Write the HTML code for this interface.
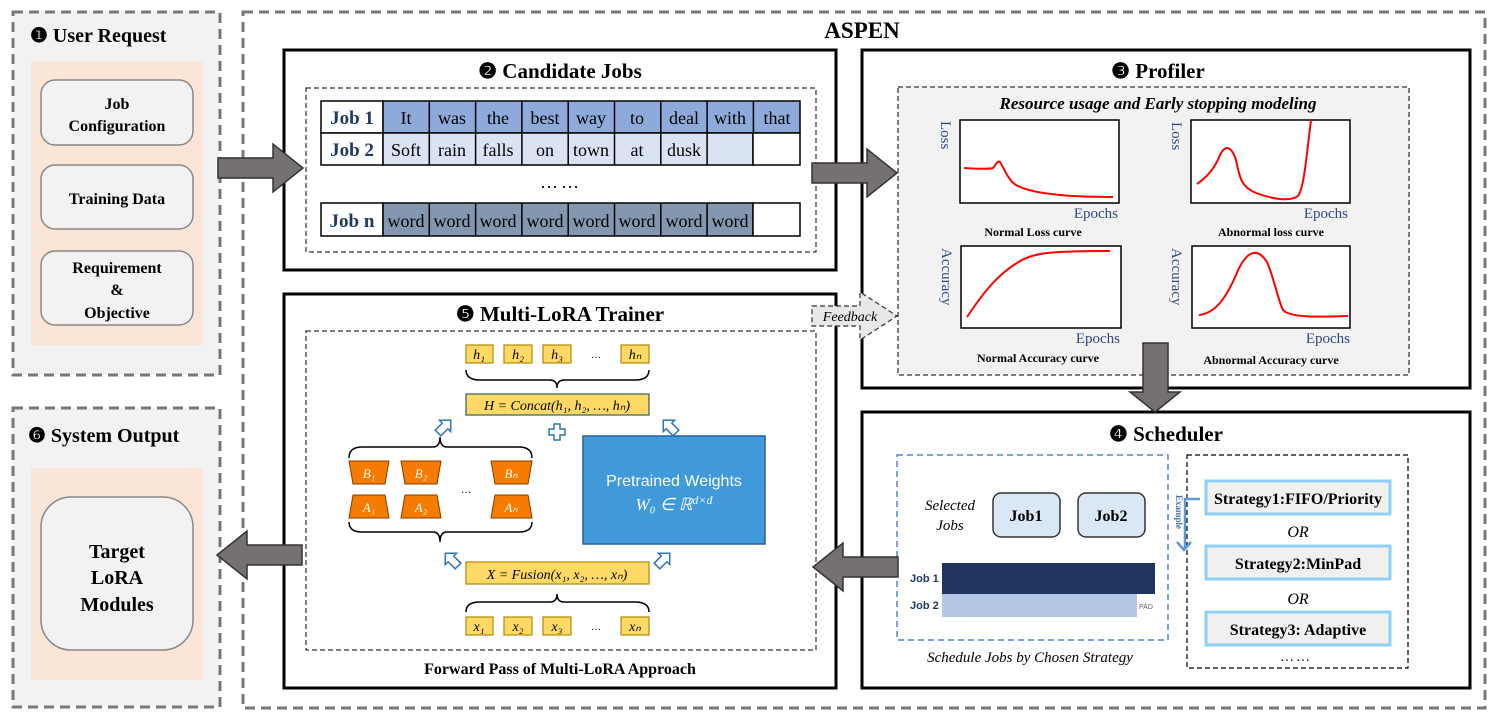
<!DOCTYPE html>
<html><head><meta charset="utf-8"><style>
body{margin:0;background:#fff}
svg{display:block;font-family:"Liberation Serif",serif}
.b{font-weight:bold}
</style></head><body>
<svg width="1495" height="719" viewBox="0 0 1495 719" xmlns="http://www.w3.org/2000/svg">
<defs>
<g id="ga"><path d="M0,-10 H55 V-24 L85,0 L55,24 V10 H0 Z" fill="#767171" stroke="#333" stroke-width="1.5"/></g>
</defs>
<!-- User request -->
<rect x="13" y="12" width="207" height="363" fill="#f2f2f2" stroke="#777" stroke-width="3" stroke-dasharray="10,6"/>
<text x="30" y="42" font-size="20" class="b">❶ User Request</text>
<rect x="31" y="61" width="172" height="284" fill="#fbe5d6"/>
<g fill="#f2f2f2" stroke="#888" stroke-width="1.5">
<rect x="41" y="80" width="152" height="65" rx="14"/>
<rect x="41" y="165" width="152" height="64" rx="14"/>
<rect x="41" y="251" width="152" height="74" rx="14"/>
</g>
<g font-size="16" class="b" text-anchor="middle">
<text x="117" y="109">Job</text><text x="117" y="131">Configuration</text>
<text x="117" y="204">Training Data</text>
<text x="117" y="273">Requirement</text><text x="117" y="295">&amp;</text><text x="117" y="318">Objective</text>
</g>
<!-- System output -->
<rect x="13" y="408" width="207" height="299" fill="#f2f2f2" stroke="#777" stroke-width="3" stroke-dasharray="10,6"/>
<text x="28" y="442" font-size="20" class="b">❻ System Output</text>
<rect x="31" y="468" width="172" height="212" fill="#fbe5d6"/>
<rect x="41" y="497" width="152" height="153" rx="30" fill="#f2f2f2" stroke="#888" stroke-width="1.5"/>
<g font-size="20" class="b" text-anchor="middle">
<text x="117" y="558">Target</text><text x="117" y="584">LoRA</text><text x="117" y="611">Modules</text>
</g>
<!-- ASPEN -->
<rect x="243" y="12" width="1242" height="696" fill="none" stroke="#777" stroke-width="3" stroke-dasharray="10,6"/>
<text x="862" y="38" font-size="23" class="b" text-anchor="middle">ASPEN</text>
<!-- Candidate Jobs -->
<rect x="284" y="50" width="552" height="220" fill="#fff" stroke="#000" stroke-width="3"/>
<text x="560" y="78" font-size="21" class="b" text-anchor="middle">❷ Candidate Jobs</text>
<rect x="306" y="88" width="510" height="164" fill="none" stroke="#000" stroke-width="1" stroke-dasharray="5,3"/>
<g stroke="#000" stroke-width="1.5">
<rect x="321" y="101" width="62" height="32" fill="#fff"/>
<rect x="383" y="101" width="417" height="32" fill="#8eaadb"/>
<rect x="321" y="133" width="62" height="32" fill="#fff"/>
<rect x="383" y="133" width="370" height="32" fill="#dae3f3"/>
<rect x="753" y="133" width="47" height="32" fill="#fff"/>
<rect x="321" y="203" width="62" height="33" fill="#fff"/>
<rect x="383" y="203" width="370" height="33" fill="#8497b0"/>
<rect x="753" y="203" width="47" height="33" fill="#fff"/>
<path d="M429.3,101V165M475.6,101V165M521.9,101V165M568.2,101V165M614.5,101V165M660.8,101V165M707.1,101V165M753.4,101V133M429.3,203V236M475.6,203V236M521.9,203V236M568.2,203V236M614.5,203V236M660.8,203V236M707.1,203V236"/>
</g>
<g font-size="19" class="b" fill="#1f3864" text-anchor="middle">
<text x="352" y="124">Job 1</text><text x="352" y="156">Job 2</text><text x="352" y="227">Job n</text>
</g>
<g font-size="18" text-anchor="middle">
<text x="406" y="124">It</text><text x="452" y="124">was</text><text x="498" y="124">the</text><text x="545" y="124">best</text><text x="591" y="124">way</text><text x="637" y="124">to</text><text x="684" y="124">deal</text><text x="730" y="124">with</text><text x="777" y="124">that</text>
<text x="406" y="156">Soft</text><text x="452" y="156">rain</text><text x="498" y="156">falls</text><text x="545" y="156">on</text><text x="591" y="156">town</text><text x="637" y="156">at</text><text x="684" y="156">dusk</text>
<text x="406" y="227">word</text><text x="452" y="227">word</text><text x="498" y="227">word</text><text x="545" y="227">word</text><text x="591" y="227">word</text><text x="637" y="227">word</text><text x="684" y="227">word</text><text x="730" y="227">word</text>
<text x="561" y="188" letter-spacing="3">……</text>
</g>
<!-- Profiler -->
<rect x="862" y="50" width="608" height="338" fill="#fff" stroke="#000" stroke-width="3"/>
<text x="1158" y="78" font-size="21" class="b" text-anchor="middle">❸ Profiler</text>
<rect x="898" y="87" width="511" height="288" fill="#f2f2f2" stroke="#000" stroke-width="1" stroke-dasharray="5,3"/>
<text x="1158" y="109" font-size="17" class="b" font-style="italic" text-anchor="middle">Resource usage and Early stopping modeling</text>
<g fill="#fff" stroke="#000" stroke-width="1.5">
<rect x="960" y="120" width="159" height="83"/>
<rect x="1191" y="120" width="159" height="83"/>
<rect x="961" y="246" width="160" height="82"/>
<rect x="1192" y="246" width="158" height="82"/>
</g>
<g fill="none" stroke="#f00" stroke-width="2">
<path d="M964,168 C980,169 990,169 993,168 C996,165 997,160 1000,162 C1004,168 1008,180 1016,185 C1030,193 1060,197 1113,197"/>
<path d="M1197,184 C1210,175 1216,165 1220,155 C1225,145 1231,145 1236,160 C1240,180 1242,187 1256,193 C1272,199 1290,202 1298,196 C1304,188 1306,160 1311,120"/>
<path d="M967,317 C985,290 1000,272 1022,260 C1035,253 1050,251 1110,251"/>
<path d="M1199,315 C1215,313 1225,300 1236,275 C1245,253 1256,245 1267,262 C1274,278 1278,300 1283,310 C1290,318 1320,317 1348,316"/>
</g>
<g font-size="15" fill="#2f4a80">
<text x="1118" y="218" text-anchor="end">Epochs</text>
<text x="1348" y="218" text-anchor="end">Epochs</text>
<text x="1120" y="343" text-anchor="end">Epochs</text>
<text x="1350" y="343" text-anchor="end">Epochs</text>
<text transform="translate(941,121) rotate(90)">Loss</text>
<text transform="translate(1172,122) rotate(90)">Loss</text>
<text transform="translate(942,248) rotate(90)">Accuracy</text>
<text transform="translate(1172,248) rotate(90)">Accuracy</text>
</g>
<g font-size="12" class="b" text-anchor="middle">
<text x="1033" y="236">Normal Loss curve</text>
<text x="1271" y="236">Abnormal loss curve</text>
<text x="1038" y="362">Normal Accuracy curve</text>
<text x="1271" y="364">Abnormal Accuracy curve</text>
</g>
<!-- Trainer -->
<rect x="284" y="294" width="552" height="394" fill="#fff" stroke="#000" stroke-width="3"/>
<text x="560" y="321" font-size="21" class="b" text-anchor="middle">❺ Multi-LoRA Trainer</text>
<rect x="306" y="331" width="510" height="319" fill="none" stroke="#000" stroke-width="1" stroke-dasharray="5,3"/>
<text x="560" y="674" font-size="16" class="b" text-anchor="middle">Forward Pass of Multi-LoRA Approach</text>
<g fill="#ffd966" stroke="#b08a00" stroke-width="1.2">
<rect x="466" y="345" width="27" height="18"/><rect x="504" y="345" width="28" height="18"/><rect x="543" y="345" width="28" height="18"/><rect x="621" y="345" width="28" height="18"/>
<rect x="466" y="394" width="183" height="21" stroke="#2e5e5e"/>
<rect x="466" y="562" width="183" height="22"/>
<rect x="466" y="617" width="27" height="18"/><rect x="504" y="617" width="28" height="18"/><rect x="543" y="617" width="28" height="18"/><rect x="621" y="617" width="28" height="18"/>
</g>
<g font-size="14" font-style="italic" text-anchor="middle">
<text x="479" y="359">h₁</text><text x="518" y="359">h₂</text><text x="557" y="359">h₃</text><text x="596" y="358" font-style="normal" font-size="10">…</text><text x="635" y="359">hₙ</text>
<text x="557" y="410">H = Concat(h₁, h₂, …, hₙ)</text>
<text x="557" y="579">X = Fusion(x₁, x₂, …, xₙ)</text>
<text x="479" y="631">x₁</text><text x="518" y="631">x₂</text><text x="557" y="631">x₃</text><text x="596" y="630" font-style="normal" font-size="10">…</text><text x="635" y="631">xₙ</text>
</g>
<g fill="none" stroke="#000" stroke-width="1.5">
<path d="M466,370 Q466,380 480,380 H550 Q557,380 557,388 Q557,380 564,380 H635 Q649,380 649,370"/>
<path d="M466,612 Q466,602 480,602 H550 Q557,602 557,594 Q557,602 564,602 H635 Q649,602 649,612"/>
<path d="M349,458 Q349,447 362,447 H433 Q440,447 440,437 Q440,447 447,447 H519 Q532,447 532,458"/>
<path d="M349,522 Q349,532 362,532 H433 Q440,532 440,542 Q440,532 447,532 H519 Q532,532 532,522"/>
</g>
<g fill="#f57c00" stroke="#8a3a00" stroke-width="1">
<path d="M349,461H389L385,484H353Z"/><path d="M401,461H441L437,484H405Z"/><path d="M491,461H532L528,484H495Z"/>
<path d="M353,495H385L389,518H349Z"/><path d="M405,495H437L441,518H401Z"/><path d="M495,495H528L532,518H491Z"/>
</g>
<g font-size="13" font-style="italic" fill="#fff" text-anchor="middle">
<text x="369" y="478">B₁</text><text x="421" y="478">B₂</text><text x="511" y="478">Bₙ</text>
<text x="369" y="512">A₁</text><text x="421" y="512">A₂</text><text x="511" y="512">Aₙ</text>
</g>
<text x="466" y="493" font-size="10" text-anchor="middle">…</text>
<rect x="583" y="436" width="182" height="108" fill="#409ad9" stroke="#2a5f99" stroke-width="1.5"/>
<text x="674" y="486" font-size="16" fill="#fff" font-family="Liberation Sans,sans-serif" text-anchor="middle">Pretrained Weights</text>
<text x="674" y="510" font-size="17" fill="#fff" font-style="italic" text-anchor="middle">W₀ ∈ ℝ<tspan font-size="12" dy="-6">d×d</tspan></text>
<g fill="#fff" stroke="#2e75b6" stroke-width="1.5">
<path d="M0,-4H10V-8L18,0L10,8V4H0Z" transform="translate(438,433) rotate(-45)"/>
<path d="M0,-4H10V-8L18,0L10,8V4H0Z" transform="translate(676,433) rotate(-135)"/>
<path d="M0,-4H10V-8L18,0L10,8V4H0Z" transform="translate(458,566) rotate(-135)"/>
<path d="M0,-4H10V-8L18,0L10,8V4H0Z" transform="translate(657,566) rotate(-45)"/>
<path d="M554,424h6v5h5v6h-5v5h-6v-5h-5v-6h5z"/>
</g>
<!-- Scheduler -->
<rect x="862" y="412" width="608" height="276" fill="#fff" stroke="#000" stroke-width="3"/>
<text x="1166" y="441" font-size="21" class="b" text-anchor="middle">❹ Scheduler</text>
<rect x="897" y="455" width="271" height="185" fill="none" stroke="#4a86d0" stroke-width="1.5" stroke-dasharray="6,4"/>
<rect x="1187" y="455" width="221" height="213" fill="none" stroke="#000" stroke-width="1.2" stroke-dasharray="5,3"/>
<text x="950" y="510" font-size="15" font-style="italic" text-anchor="middle">Selected</text>
<text x="950" y="530" font-size="15" font-style="italic" text-anchor="middle">Jobs</text>
<rect x="993" y="493" width="67" height="44" rx="8" fill="#dae8f5" stroke="#333" stroke-width="1.5"/>
<rect x="1078" y="493" width="67" height="44" rx="8" fill="#dae8f5" stroke="#333" stroke-width="1.5"/>
<text x="1026" y="521" font-size="16" class="b" text-anchor="middle">Job1</text>
<text x="1111" y="521" font-size="16" class="b" text-anchor="middle">Job2</text>
<rect x="942" y="563" width="213" height="31" fill="#1f355e"/>
<rect x="942" y="594" width="195" height="23" fill="#b4c7e7"/>
<g font-size="11" class="b" fill="#1f3864" font-family="Liberation Sans,sans-serif"><text x="910" y="582">Job 1</text><text x="910" y="609">Job 2</text></g>
<text x="1139" y="609" font-size="7" fill="#666" font-family="Liberation Sans,sans-serif">PAD</text>
<text x="1030" y="662" font-size="15" font-style="italic" text-anchor="middle">Schedule Jobs by Chosen Strategy</text>
<g fill="#f0f0f0" stroke="#8fd0f5" stroke-width="3">
<rect x="1206" y="481" width="184" height="33"/><rect x="1206" y="546" width="184" height="33"/><rect x="1206" y="612" width="184" height="33"/>
</g>
<g font-size="16" class="b" text-anchor="middle">
<text x="1298" y="504">Strategy1:FIFO/Priority</text><text x="1298" y="569">Strategy2:MinPad</text><text x="1298" y="635">Strategy3: Adaptive</text>
</g>
<g font-size="16" font-style="italic" text-anchor="middle"><text x="1298" y="537">OR</text><text x="1298" y="604">OR</text></g>
<text x="1296" y="661" font-size="14" text-anchor="middle" letter-spacing="2">……</text>
<path d="M1200,499H1185V548M1177,542L1184,550L1191,542" fill="none" stroke="#5b9bd5" stroke-width="2.5"/>
<text transform="translate(1176,495) rotate(90)" font-size="9" class="b" fill="#4a6fa5">Example</text>
<!-- big arrows -->
<use href="#ga" transform="translate(218,168)"/>
<use href="#ga" transform="translate(812,173)"/>
<path d="M1143,343H1168V392H1180L1155,412L1130,392H1143Z" fill="#767171" stroke="#333" stroke-width="1.5"/>
<use href="#ga" transform="translate(898,567) rotate(180)"/>
<use href="#ga" transform="translate(302,555) rotate(180)"/>
<!-- feedback -->
<path d="M812,306H860V292L897,316L860,340V326H812Z" fill="#e8e8e8" stroke="#333" stroke-width="1.2" stroke-dasharray="5,3"/>
<text x="850" y="321" font-size="14" font-style="italic" text-anchor="middle">Feedback</text>
</svg>
</body></html>
